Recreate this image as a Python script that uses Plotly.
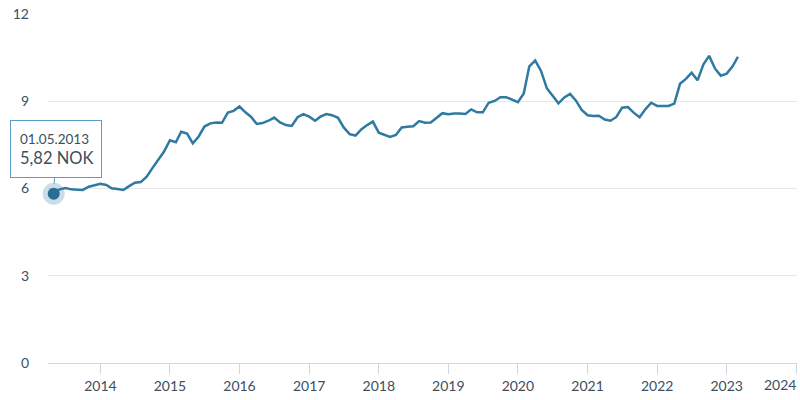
import pandas as pd
import plotly.graph_objects as go

start_month = "2013-05-01"
prices = [
    5.82, 5.97, 6.02, 5.97, 5.96, 5.95, 6.06, 6.12, 6.16, 6.12, 6.01, 5.98,
    5.95, 6.08, 6.20, 6.22, 6.41, 6.70, 6.98, 7.27, 7.66, 7.59, 7.95, 7.89,
    7.55, 7.79, 8.13, 8.24, 8.27, 8.26, 8.61, 8.67, 8.82, 8.62, 8.47, 8.22,
    8.25, 8.33, 8.44, 8.27, 8.18, 8.15, 8.45, 8.56, 8.47, 8.33, 8.47, 8.56,
    8.52, 8.43, 8.10, 7.87, 7.82, 8.03, 8.18, 8.30, 7.92, 7.84, 7.77, 7.84,
    8.10, 8.12, 8.14, 8.32, 8.26, 8.27, 8.45, 8.59, 8.55, 8.58, 8.58, 8.56,
    8.72, 8.62, 8.62, 8.95, 9.01, 9.14, 9.14, 9.05, 8.97, 9.27, 10.20, 10.40,
    10.05, 9.45, 9.20, 8.93, 9.13, 9.25, 9.02, 8.70, 8.52, 8.49, 8.50, 8.37,
    8.33, 8.46, 8.78, 8.80, 8.60, 8.45, 8.73, 8.95, 8.84, 8.85, 8.84, 8.92,
    9.60, 9.77, 9.98, 9.72, 10.27, 10.56, 10.12, 9.88, 9.95, 10.20, 10.53,
]
dates = pd.date_range(start_month, periods=len(prices), freq="MS")
year_ticks = [str(y) for y in range(2014, 2025)]
y_ticks = [0, 3, 6, 9, 12]
unit = "NOK"

line_color = "#2e7aa1"
dot_color = "#2a6d94"
text_color = "#3d4f5c"
border_color = "#5b9cc2"
font_family = "Lato, 'Open Sans', sans-serif"

fig = go.Figure()
fig.add_trace(go.Scatter(
    x=dates, y=prices, mode="lines",
    line=dict(color=line_color, width=2.5),
    hoverinfo="skip", showlegend=False,
))
# halo + marker on highlighted point
fig.add_trace(go.Scatter(
    x=[dates[0]], y=[prices[0]], mode="markers",
    marker=dict(size=22, color="rgba(46,122,161,0.25)"),
    hoverinfo="skip", showlegend=False, cliponaxis=False,
))
fig.add_trace(go.Scatter(
    x=[dates[0]], y=[prices[0]], mode="markers",
    marker=dict(size=12, color=dot_color),
    hoverinfo="skip", showlegend=False, cliponaxis=False,
))

label_date = dates[0].strftime("%d.%m.%Y")
label_val = f"{prices[0]:.2f}".replace(".", ",") + " " + unit
# tooltip box with pointer
fig.add_annotation(
    x=dates[0], y=prices[0], xref="x", yref="y",
    text=" ",
    showarrow=True, arrowhead=0, arrowwidth=1, arrowcolor=border_color,
    ax=2, ay=-45, standoff=10,
    width=80, height=46, borderpad=5,
    bgcolor="white", bordercolor=border_color, borderwidth=1,
)
# tooltip texts
fig.add_annotation(
    x=dates[0], y=prices[0], xref="x", yref="y", text=label_date,
    showarrow=False, xanchor="left", yanchor="middle",
    xshift=-36, yshift=55,
    font=dict(family=font_family, size=13.5, color=text_color),
)
fig.add_annotation(
    x=dates[0], y=prices[0], xref="x", yref="y", text=label_val,
    showarrow=False, xanchor="left", yanchor="middle",
    xshift=-36, yshift=36,
    font=dict(family=font_family, size=16.5, color=text_color),
)
# last year label, right aligned at the plot edge
fig.add_annotation(
    x=year_ticks[-1] + "-01-01", y=0, xref="x", yref="paper",
    text=year_ticks[-1], showarrow=False,
    xanchor="right", yanchor="top", yshift=-11, xshift=2,
    font=dict(family=font_family, size=14, color=text_color),
)

fig.update_layout(
    width=800, height=400,
    margin=dict(l=48, r=3, t=14, b=37),
    paper_bgcolor="white", plot_bgcolor="white",
    font=dict(family=font_family, size=14, color=text_color),
)
fig.update_xaxes(
    range=["2013-04-01", "2024-01-05"],
    tickvals=[y + "-01-01" for y in year_ticks],
    ticktext=year_ticks[:-1] + [""],
    showgrid=False, showline=True, linecolor="#ccd6eb", linewidth=1,
    ticks="outside", ticklen=10, tickcolor="#ccd6eb", tickwidth=1,
    tickfont=dict(family=font_family, size=14, color=text_color),
    automargin=False, fixedrange=True,
)
fig.update_yaxes(
    range=[0, 12], tickvals=y_ticks,
    showgrid=True, gridcolor="#e6e6e6", gridwidth=1,
    zeroline=False, showline=False, ticks="",
    ticklabelstandoff=18,
    tickfont=dict(family=font_family, size=14, color=text_color),
    automargin=False, fixedrange=True,
)
fig.write_html("out.html", config={"displayModeBar": False},
               post_script="document.body.style.margin='0';")
